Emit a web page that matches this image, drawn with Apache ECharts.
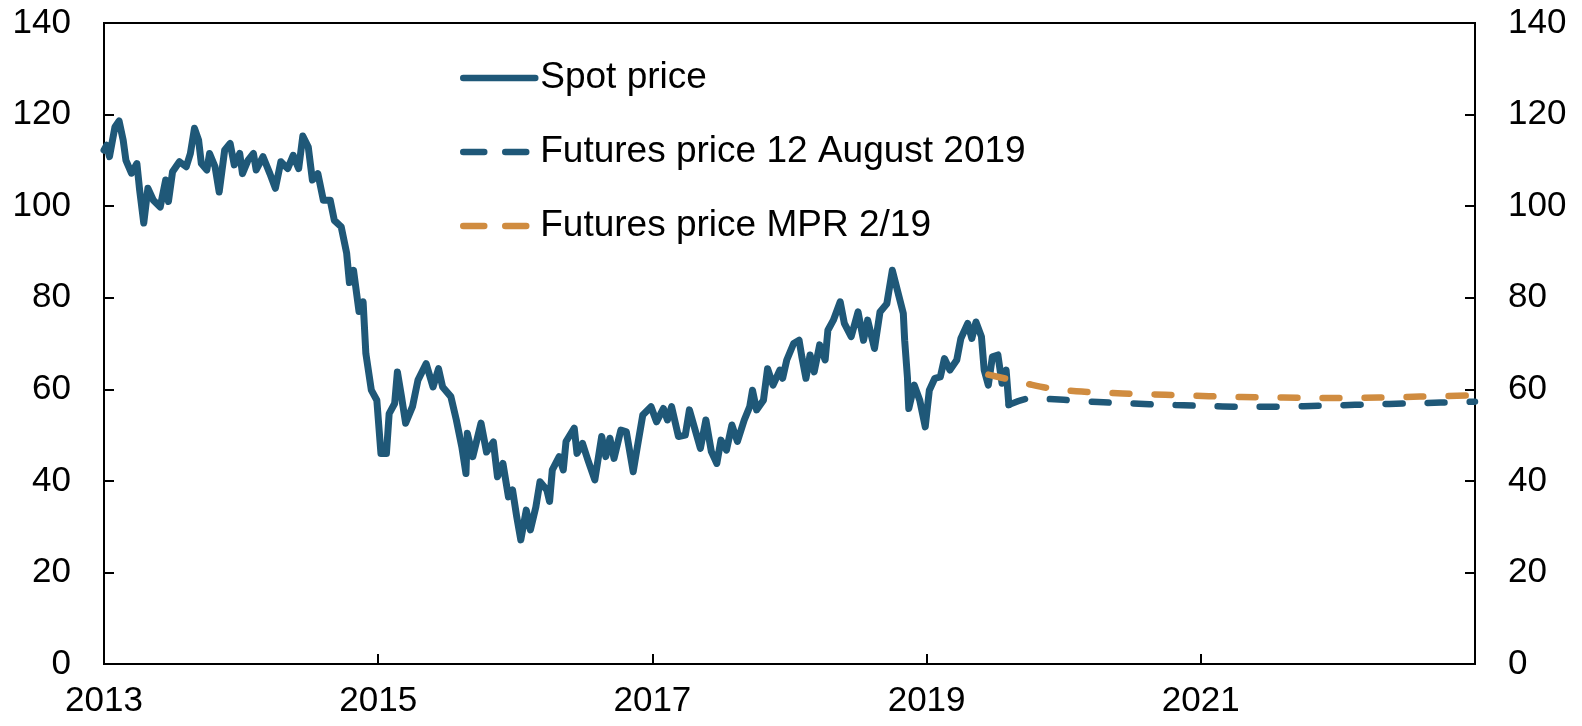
<!DOCTYPE html>
<html>
<head>
<meta charset="utf-8">
<script src="https://cdn.jsdelivr.net/npm/echarts@6/dist/echarts.min.js"></script>
<style>
html,body{margin:0;padding:0;background:#fff;}
#chart{width:1582px;height:726px;}
</style>
</head>
<body>
<div id="chart"></div>
<script>
// Spot price (decimal year, USD per barrel)
var spotYears = [2013.00,2013.02,2013.04,2013.08,2013.11,2013.14,2013.16,2013.20,2013.24,2013.26,2013.29,2013.32,2013.36,2013.41,2013.45,2013.47,2013.50,2013.55,2013.60,2013.63,2013.66,2013.69,2013.71,2013.75,2013.77,2013.81,2013.84,2013.88,2013.92,2013.95,2013.99,2014.01,2014.05,2014.09,2014.11,2014.16,2014.21,2014.25,2014.29,2014.34,2014.38,2014.42,2014.45,2014.49,2014.52,2014.56,2014.60,2014.65,2014.68,2014.73,2014.77,2014.79,2014.82,2014.86,2014.89,2014.91,2014.95,2014.99,2015.02,2015.06,2015.08,2015.12,2015.14,2015.17,2015.20,2015.25,2015.29,2015.35,2015.40,2015.44,2015.47,2015.53,2015.57,2015.61,2015.64,2015.65,2015.69,2015.75,2015.79,2015.84,2015.87,2015.91,2015.95,2015.98,2016.01,2016.04,2016.08,2016.11,2016.15,2016.18,2016.23,2016.25,2016.27,2016.32,2016.35,2016.37,2016.43,2016.45,2016.49,2016.53,2016.58,2016.63,2016.66,2016.69,2016.72,2016.77,2016.81,2016.86,2016.89,2016.93,2016.99,2017.03,2017.08,2017.11,2017.14,2017.19,2017.24,2017.27,2017.35,2017.39,2017.43,2017.47,2017.50,2017.54,2017.58,2017.62,2017.67,2017.71,2017.73,2017.76,2017.81,2017.84,2017.88,2017.93,2017.95,2017.98,2018.03,2018.07,2018.09,2018.12,2018.15,2018.18,2018.22,2018.26,2018.28,2018.32,2018.37,2018.40,2018.45,2018.50,2018.54,2018.57,2018.62,2018.66,2018.71,2018.75,2018.79,2018.83,2018.84,2018.86,2018.87,2018.91,2018.95,2018.99,2019.02,2019.06,2019.10,2019.13,2019.17,2019.22,2019.25,2019.30,2019.33,2019.36,2019.40,2019.42,2019.45,2019.48,2019.52,2019.55,2019.58,2019.60];
var spotPrices = [112.2,113.3,110.8,117.3,118.6,114.4,110.0,107.2,109.3,103.5,96.3,103.9,101.3,99.8,105.7,101.0,107.5,109.7,108.6,111.5,117.0,114.4,109.3,107.9,111.5,108.6,103.1,112.2,113.7,109.0,111.5,107.1,110.0,111.5,107.9,110.8,107.1,103.9,109.7,108.2,111.1,108.2,115.3,112.9,105.7,107.1,101.3,101.3,96.9,95.5,89.7,83.3,86.0,77.0,79.1,67.8,59.8,57.6,46.0,46.0,54.7,56.9,63.8,58.4,52.6,56.2,62.0,65.6,60.5,64.5,60.5,58.4,53.3,47.4,41.6,50.4,45.3,52.6,46.3,48.5,40.9,43.8,36.5,38.0,32.2,27.1,33.6,29.3,34.3,39.8,38.0,35.5,42.4,45.3,42.4,48.6,51.5,46.0,48.2,44.5,40.2,49.7,45.3,49.3,44.9,51.1,50.7,42.0,47.4,54.4,56.2,52.9,55.8,53.3,56.2,49.7,50.0,55.5,47.1,53.3,46.4,43.8,48.9,46.7,52.2,48.6,53.3,56.2,59.8,55.5,57.6,64.5,60.9,64.2,62.4,66.4,70.0,70.7,67.1,62.4,67.5,63.8,69.7,66.4,72.9,75.1,79.1,74.4,71.5,76.9,70.7,75.1,68.9,76.9,78.7,86.0,81.3,76.6,70.7,62.7,55.8,60.9,57.6,51.8,59.8,62.4,62.7,66.7,64.2,66.4,71.1,74.4,71.1,74.7,71.5,64.2,60.9,67.1,67.5,61.3,64.2,56.6];

// Futures price 12 August 2019
var futAugYears  = [2019.60,2019.75,2020.00,2020.25,2020.50,2020.75,2021.00,2021.25,2021.50,2021.75,2022.00,2022.25,2022.50,2022.75,2023.00];
var futAugPrices = [56.6,58.0,57.7,57.2,56.9,56.6,56.4,56.2,56.2,56.3,56.5,56.7,56.9,57.1,57.3];

// Futures price MPR 2/19
var futMprYears  = [2019.45,2019.58,2019.75,2019.90,2020.13,2020.43,2020.74,2021.06,2021.30,2021.60,2022.00,2022.30,2022.60,2023.00];
var futMprPrices = [63.2,62.3,61.1,60.2,59.5,59.1,58.8,58.5,58.3,58.2,58.1,58.2,58.4,58.7];

var seriesNames = ['Spot price','Futures price 12 August 2019','Futures price MPR 2/19'];
var xTickLabels = ['2013','2015','2017','2019','2021'];

function pairs(xs, ys){ var out=[]; for(var i=0;i<xs.length;i++){ out.push([xs[i], ys[i]]); } return out; }

var BLUE = '#1f5878', ORANGE = '#d08c40';
var FONT = 'Liberation Sans, Arial, sans-serif';

var chart = echarts.init(document.getElementById('chart'), null, {renderer:'canvas'});
var yAxisCommon = {
  type:'value', min:0, max:140, interval:20,
  axisLine:{show:true, lineStyle:{color:'#000', width:2}},
  axisTick:{show:true, inside:true, length:10, lineStyle:{color:'#000', width:2}},
  axisLabel:{color:'#000', fontSize:35, fontFamily:FONT, margin:33},
  splitLine:{show:false}
};
chart.setOption({
  animation:false,
  backgroundColor:'#fff',
  grid:{left:104, right:107, top:23, bottom:62, containLabel:false, show:true, borderColor:'#000', borderWidth:2, backgroundColor:'transparent'},
  legend:{
    orient:'vertical', left:460, top:58, padding:0, itemGap:34,
    itemWidth:72, itemHeight:2,
    itemStyle:{opacity:0},
    lineStyle:{width:6.5, cap:'round'},
    textStyle:{color:'#000', fontSize:37, fontFamily:FONT, lineHeight:40},
    data:[
      {name:seriesNames[0], lineStyle:{width:6.5, cap:'round'}},
      {name:seriesNames[1], lineStyle:{width:6.5, type:[21,21], cap:'round'}},
      {name:seriesNames[2], lineStyle:{width:6.5, type:[21,21], cap:'round'}}
    ]
  },
  xAxis:{
    type:'value', min:2013, max:2023, interval:2,
    axisLine:{show:true, onZero:false, lineStyle:{color:'#000', width:2}},
    axisTick:{show:true, inside:true, length:10, lineStyle:{color:'#000', width:2}},
    axisLabel:{color:'#000', fontSize:35, fontFamily:FONT, margin:20,
      formatter:function(v){ var s=String(Math.round(v)); return xTickLabels.indexOf(s)>=0 ? s : ''; }},
    splitLine:{show:false}
  },
  yAxis:[
    Object.assign({}, yAxisCommon, {position:'left'}),
    Object.assign({}, yAxisCommon, {position:'right'})
  ],
  series:[
    {name:seriesNames[0], type:'line', symbol:'none', data:pairs(spotYears, spotPrices),
     lineStyle:{color:BLUE, width:7, cap:'round', join:'round'}, itemStyle:{color:BLUE}},
    {name:seriesNames[1], type:'line', symbol:'none', data:pairs(futAugYears, futAugPrices), smooth:0.3,
     lineStyle:{color:BLUE, width:6.5, type:[17,25], cap:'round', join:'round'}, itemStyle:{color:BLUE}},
    {name:seriesNames[2], type:'line', symbol:'none', data:pairs(futMprYears, futMprPrices), smooth:0.3,
     lineStyle:{color:ORANGE, width:6.5, type:[17,25], cap:'round', join:'round'}, itemStyle:{color:ORANGE}}
  ]
});
</script>
</body>
</html>
